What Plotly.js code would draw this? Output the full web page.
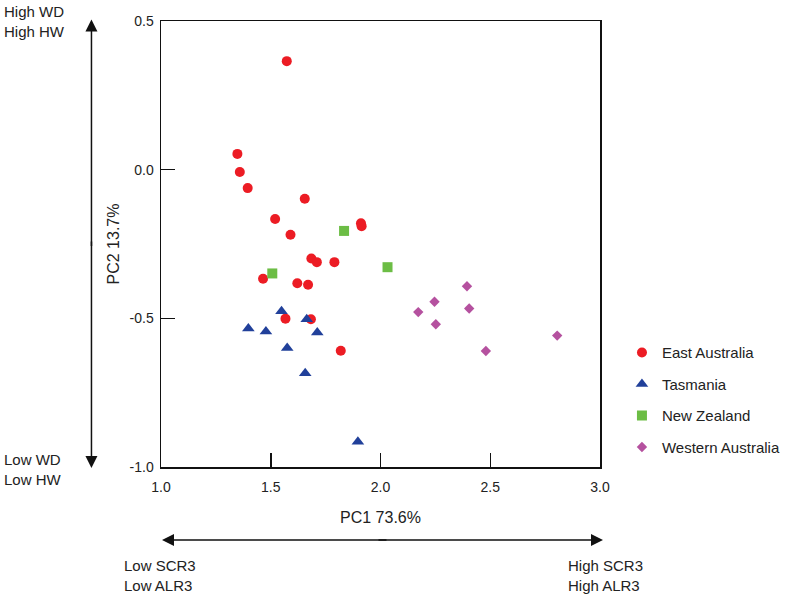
<!DOCTYPE html>
<html>
<head>
<meta charset="utf-8">
<script src="https://cdn.plot.ly/plotly-3.0.1.min.js"></script>
<style>html,body{margin:0;padding:0;background:#fff;}#chart{width:797px;height:599px;}</style>
</head>
<body>
<div id="chart"></div>
<script>
// Data (PC1, PC2)
const eastAusX = [1.573, 1.348, 1.359, 1.395, 1.655, 1.520, 1.911, 1.914, 1.590, 1.685, 1.710, 1.790, 1.465, 1.621, 1.670, 1.567, 1.683, 1.819];
const eastAusY = [0.365, 0.053, -0.008, -0.062, -0.098, -0.166, -0.180, -0.190, -0.219, -0.299, -0.311, -0.311, -0.367, -0.382, -0.387, -0.501, -0.503, -0.609];
const tasX = [1.549, 1.664, 1.398, 1.478, 1.712, 1.575, 1.657, 1.897];
const tasY = [-0.476, -0.503, -0.534, -0.544, -0.548, -0.600, -0.685, -0.915];
const nzX = [1.834, 2.032, 1.507];
const nzY = [-0.206, -0.328, -0.349];
const waX = [2.394, 2.246, 2.172, 2.404, 2.252, 2.480, 2.805];
const waY = [-0.392, -0.444, -0.479, -0.467, -0.520, -0.610, -0.558];
const xTickVals = [1.0, 1.5, 2.0, 2.5, 3.0];
const xTickText = ['1.0', '1.5', '2.0', '2.5', '3.0'];
const yTickVals = [0.5, 0.0, -0.5, -1.0];
const yTickText = ['0.5', '0.0', '-0.5', '-1.0'];

const FONT = 'Liberation Sans, Arial, Helvetica, sans-serif';

const traces = [
  {x: eastAusX, y: eastAusY, name: 'East Australia', legendgroup: 'a', mode: 'markers', type: 'scatter',
   marker: {symbol: 'circle', size: 10, color: '#ec1c24'}},
  {x: tasX, y: tasY, name: 'Tasmania', legendgroup: 'b', mode: 'markers', type: 'scatter',
   marker: {symbol: 'triangle-up', size: 11, color: '#21409a'}},
  {x: nzX, y: nzY, name: 'New Zealand', legendgroup: 'c', mode: 'markers', type: 'scatter',
   marker: {symbol: 'square', size: 10, color: '#6cbd45'}},
  {x: waX, y: waY, name: 'Western Australia', legendgroup: 'd', mode: 'markers', type: 'scatter',
   marker: {symbol: 'diamond', size: 8, color: '#b5519f'}}
];

const txt = {size: 15, color: '#222', family: FONT};
const arrowCommon = {xref: 'paper', yref: 'paper', text: '', showarrow: true, arrowhead: 2, arrowsize: 1.6, arrowwidth: 1.5, arrowcolor: '#111'};

const layout = {
  width: 797, height: 599,
  margin: {l: 161, r: 194, t: 21, b: 132},
  paper_bgcolor: '#fff', plot_bgcolor: '#fff',
  font: {family: FONT, size: 14, color: '#222'},
  showlegend: true,
  legend: {x: 1.05, xanchor: 'left', y: 0.293, yanchor: 'top', traceorder: 'grouped', tracegroupgap: 9,
           font: {size: 15, family: FONT, color: '#222'}, bgcolor: 'rgba(0,0,0,0)'},
  xaxis: {range: [1.0, 3.0], tickvals: xTickVals, ticktext: xTickText, ticks: 'inside', ticklen: 14, tickwidth: 1.5,
          tickcolor: '#111', showline: true, linecolor: '#111', linewidth: 1.5, mirror: true, showgrid: false, zeroline: false,
          tickfont: {size: 14, family: FONT}, ticklabelstandoff: 7,
          title: {text: 'PC1 73.6%', font: {size: 16, family: FONT}, standoff: 17}, automargin: false},
  yaxis: {range: [-1.0, 0.5], tickvals: yTickVals, ticktext: yTickText, ticks: 'inside', ticklen: 14, tickwidth: 1.5,
          tickcolor: '#111', showline: true, linecolor: '#111', linewidth: 1.5, mirror: true, showgrid: false, zeroline: false,
          tickfont: {size: 14, family: FONT}, ticklabelstandoff: 3,
          title: {text: 'PC2 13.7%', font: {size: 16, family: FONT}, standoff: 6}, automargin: false},
  annotations: [
    Object.assign({}, arrowCommon, {x: -0.1584, y: 1.0034, ax: 0, ay: 228}),
    Object.assign({}, arrowCommon, {x: -0.1584, y: -0.0022, ax: 0, ay: -228}),
    Object.assign({}, arrowCommon, {x: 0.0023, y: -0.1639, ax: 226, ay: 0}),
    Object.assign({}, arrowCommon, {x: 1.0068, y: -0.1639, ax: -226, ay: 0}),
    {xref: 'paper', yref: 'paper', x: -0.362, y: 0.9989, xanchor: 'left', yanchor: 'middle', align: 'left', showarrow: false,
     text: 'High WD<br>High HW', font: txt},
    {xref: 'paper', yref: 'paper', x: -0.362, y: -0.0045, xanchor: 'left', yanchor: 'middle', align: 'left', showarrow: false,
     text: 'Low WD<br>Low HW', font: txt},
    {xref: 'paper', yref: 'paper', x: -0.088, y: -0.2435, xanchor: 'left', yanchor: 'middle', align: 'left', showarrow: false,
     text: 'Low SCR3<br>Low ALR3', font: txt},
    {xref: 'paper', yref: 'paper', x: 0.923, y: -0.2435, xanchor: 'left', yanchor: 'middle', align: 'left', showarrow: false,
     text: 'High SCR3<br>High ALR3', font: txt}
  ]
};

Plotly.newPlot('chart', traces, layout, {displayModeBar: false, staticPlot: true});
</script>
</body>
</html>
